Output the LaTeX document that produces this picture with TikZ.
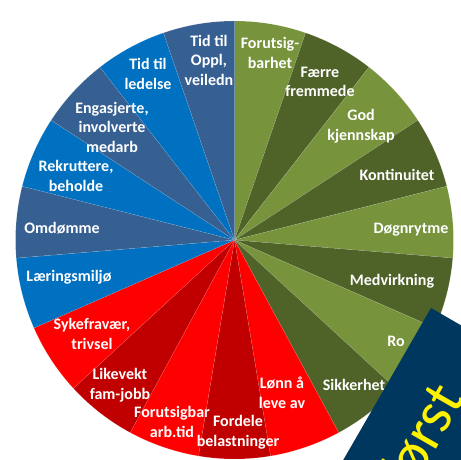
\documentclass[tikz,border=0pt]{standalone}
\usepackage{fontspec}
\setmainfont{Carlito}
\definecolor{lg}{HTML}{77933C}
\definecolor{dg}{HTML}{4F6228}
\definecolor{rr}{HTML}{FF0000}
\definecolor{dr}{HTML}{C00000}
\definecolor{bb}{HTML}{0070C0}
\definecolor{sb}{HTML}{376092}
\definecolor{navy}{HTML}{00375F}
\begin{document}
\begin{tikzpicture}[x=1pt,y=1pt,
  lbl/.style={text=white,font=\bfseries\fontsize{16}{19.5}\selectfont,align=center,inner sep=0pt},
  slice/.style={draw=white,draw opacity=0.2,line width=0.4pt}]
\useasboundingbox (0,0) rectangle (461,459);
\clip (0,0) rectangle (461,459);
\coordinate (C) at (234.5,219);
\foreach \c [count=\k from 0] in {lg,dg,lg,dg,lg,dg,lg,dg,rr,dr,rr,dr,rr,bb,sb,bb,sb,bb,sb} {
  \pgfmathsetmacro\sa{90-\k*360/19}
  \pgfmathsetmacro\ea{90-(\k+1)*360/19}
  \filldraw[slice,fill=\c] (C) -- ++(\sa:219) arc[start angle=\sa, end angle=\ea, radius=219] -- cycle;
}
\node[lbl] (l0) at (270,406) {Forutsig-\\barhet};
\node[lbl] (l1) at (320,377) {Færre\\fremmede};
\node[lbl] (l2) at (361,333) {God\\kjennskap};
\node[lbl] (l3) at (397,284) {Kontinuitet};
\node[lbl] (l4) at (411,229) {Døgnrytme};
\node[lbl] (l5) at (392,178) {Medvirkning};
\node[lbl] (l6) at (396,118) {Ro};
\node[lbl] (l7) at (354,74) {Sikkerhet};
\node[lbl] (l8) at (282,66) {Lønn å\\leve av};
\node[lbl] (l9) at (238,27) {Fordele\\belastninger};
\node[lbl] (l10) at (172,37) {Forutsigbar\\arb.tid};
\node[lbl] (l11) at (120,74) {Likevekt\\fam-jobb};
\node[lbl] (l12) at (92,125) {Sykefravær,\\trivsel};
\node[lbl] (l13) at (69,182) {Læringsmiljø};
\node[lbl] (l14) at (62,231) {Omdømme};
\node[lbl] (l15) at (76,283) {Rekruttere,\\beholde};
\node[lbl] (l16) at (112,332) {Engasjerte,\\involverte\\medarb};
\node[lbl] (l17) at (148,385) {Tid til\\ledelse};
\node[lbl] (l18) at (209,399) {Tid til\\Oppl,\\veiledn};
\coordinate (A) at (431,151);
\fill[navy] (A) -- ++(-30:200) -- ++(240:330) -- ++(150:200) -- cycle;
\node[rotate=60,anchor=base east,text=yellow,font=\fontsize{60}{60}\selectfont,inner sep=0pt] (txt) at (465.5,61) {først};
\end{tikzpicture}
\end{document}
